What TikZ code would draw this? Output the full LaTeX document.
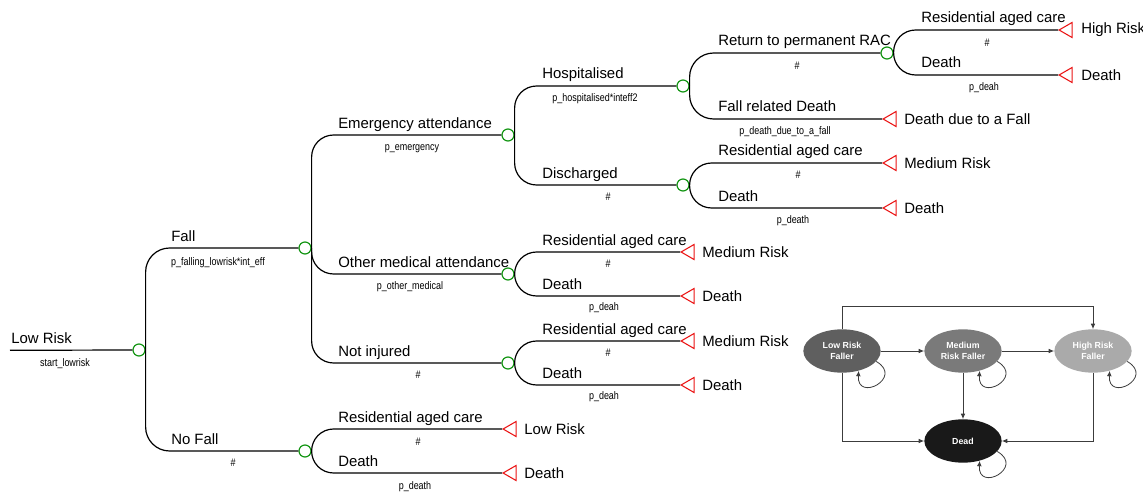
\documentclass[tikz,border=0pt]{standalone}
\usepackage{fontspec}
\setmainfont{Liberation Sans}
\usetikzlibrary{shapes.geometric,arrows.meta}
\newcommand{\nrw}[1]{\scalebox{0.82}[1]{#1}}
\definecolor{chgreen}{RGB}{20,150,20}
\definecolor{termred}{RGB}{235,20,20}
\definecolor{lrfill}{RGB}{95,95,95}
\definecolor{mrfill}{RGB}{122,122,122}
\definecolor{hrfill}{RGB}{170,170,170}
\definecolor{ddfill}{RGB}{25,25,25}
\definecolor{edgegray}{RGB}{60,60,60}
\begin{document}
\begin{tikzpicture}[x=0.75pt,y=-0.75pt,
  chance/.style={circle,draw=chgreen,line width=0.9pt,fill=white,minimum size=9pt,inner sep=0pt},
  term/.style={regular polygon,regular polygon sides=3,shape border rotate=90,draw=termred,line width=0.8pt,minimum size=13pt,inner sep=0pt,anchor=west},
  br/.style={line width=0.9pt,rounded corners=16.5pt},
  brwide/.style={line width=0.9pt,rounded corners=18pt},
  lab/.style={anchor=base west,inner sep=0pt,font=\fontsize{11.2}{13}\selectfont},
  sm/.style={inner sep=0pt,font=\fontsize{8.2}{9}\selectfont},
  endl/.style={anchor=west,inner sep=0pt,font=\fontsize{11.2}{13}\selectfont},
  st/.style={ellipse,minimum width=58pt,minimum height=32.5pt,inner sep=0pt,text=white,align=center,font=\fontsize{6.6}{7.8}\selectfont\bfseries},
  mk/.style={draw=edgegray,line width=0.6pt,-{Latex[length=4pt,width=3.5pt]}}
]
\useasboundingbox[fill=white] (0,0) rectangle (1143,492);

% chance nodes
\node[chance] (c0) at (139,350) {};
\node[chance] (c1) at (305,248) {};
\node[chance] (c2) at (305,451) {};
\node[chance] (c3) at (508,135) {};
\node[chance] (c4) at (508,274) {};
\node[chance] (c5) at (508,363) {};
\node[chance] (c6) at (683,86) {};
\node[chance] (c7) at (683,185) {};
\node[chance] (c8) at (887,53) {};

% terminal nodes
\node[term] (t1) at (1058,30) {};
\node[term] (t2) at (1058,75) {};
\node[term] (t3) at (882,119) {};
\node[term] (t4) at (882,163) {};
\node[term] (t5) at (882,208) {};
\node[term] (t6) at (680,252) {};
\node[term] (t7) at (680,296) {};
\node[term] (t8) at (680,341) {};
\node[term] (t9) at (680,385) {};
\node[term] (t10) at (502,429) {};
\node[term] (t11) at (502,473) {};

\coordinate (start) at (10,350.3);

% connectors
\draw[br] (start) -- (c0.west);
\draw[brwide] (c0.east) |- (c1.west);
\draw[brwide] (c0.east) |- (c2.west);
\draw[br] (c1.east) |- (c3.west);
\draw[br] (c1.east) |- (c4.west);
\draw[br] (c1.east) |- (c5.west);
\draw[br] (c2.east) |- (t10.west);
\draw[br] (c2.east) |- (t11.west);
\draw[br] (c3.east) |- (c6.west);
\draw[br] (c3.east) |- (c7.west);
\draw[br] (c4.east) |- (t6.west);
\draw[br] (c4.east) |- (t7.west);
\draw[br] (c5.east) |- (t8.west);
\draw[br] (c5.east) |- (t9.west);
\draw[brwide] (c6.east) |- (c8.west);
\draw[brwide] (c6.east) |- (t3.west);
\draw[br] (c7.east) |- (t4.west);
\draw[br] (c7.east) |- (t5.west);
\draw[br] (c8.east) |- (t1.west);
\draw[br] (c8.east) |- (t2.west);

% branch labels
\node[lab] at (11,343) {Low Risk};
\node[sm] at (65,364) {\nrw{start\_lowrisk}};
\node[lab] at (171,241) {Fall};
\node[sm] at (218,263) {\nrw{p\_falling\_lowrisk*int\_eff}};
\node[lab] at (171,444) {No Fall};
\node[sm] at (233,463) {\nrw{\#}};
\node[lab] at (338,128) {Emergency attendance};
\node[sm] at (412,149) {\nrw{p\_emergency}};
\node[lab] at (338,267) {Other medical attendance};
\node[sm] at (410,287) {\nrw{p\_other\_medical}};
\node[lab] at (338,356) {Not injured};
\node[sm] at (418,375) {\nrw{\#}};
\node[lab] at (338,422) {Residential aged care};
\node[sm] at (418,442) {\nrw{\#}};
\node[lab] at (338,466) {Death};
\node[sm] at (415,487) {\nrw{p\_death}};
\node[lab] at (542,79) {Hospitalised};
\node[sm] at (595,99) {\nrw{p\_hospitalised*inteff2}};
\node[lab] at (542,178) {Discharged};
\node[sm] at (608,197) {\nrw{\#}};
\node[lab] at (542,245) {Residential aged care};
\node[sm] at (608,264) {\nrw{\#}};
\node[lab] at (542,289) {Death};
\node[sm] at (604,308) {\nrw{p\_deah}};
\node[lab] at (542,334) {Residential aged care};
\node[sm] at (608,353) {\nrw{\#}};
\node[lab] at (542,378) {Death};
\node[sm] at (604,397) {\nrw{p\_deah}};
\node[lab] at (718,46) {Return to permanent RAC};
\node[sm] at (797,66) {\nrw{\#}};
\node[lab] at (718,112) {Fall related Death};
\node[sm] at (785,132) {\nrw{p\_death\_due\_to\_a\_fall}};
\node[lab] at (718,156) {Residential aged care};
\node[sm] at (798,175) {\nrw{\#}};
\node[lab] at (718,201) {Death};
\node[sm] at (793,221) {\nrw{p\_death}};
\node[lab] at (921,23) {Residential aged care};
\node[sm] at (987,43) {\nrw{\#}};
\node[lab] at (921,68) {Death};
\node[sm] at (984,88) {\nrw{p\_deah}};

% terminal labels
\node[endl] at (1081,30) {High Risk};
\node[endl] at (1081,75) {Death};
\node[endl] at (904,119) {Death due to a Fall};
\node[endl] at (904,163) {Medium Risk};
\node[endl] at (904,208) {Death};
\node[endl] at (702,252) {Medium Risk};
\node[endl] at (702,296) {Death};
\node[endl] at (702,341) {Medium Risk};
\node[endl] at (702,385) {Death};
\node[endl] at (524,429) {Low Risk};
\node[endl] at (524,473) {Death};

% Markov model
\node[st,fill=lrfill] (lr) at (842,351) {Low Risk\\Faller};
\node[st,fill=mrfill] (mr) at (963,351) {Medium\\Risk Faller};
\node[st,fill=hrfill] (hr) at (1093,351) {High Risk\\Faller};
\node[st,fill=ddfill] (dd) at (963,441) {Dead};

\draw[mk] (lr.east) -- (mr.west);
\draw[mk] (mr.east) -- (hr.west);
\draw[mk] (lr.north) -- ++(0,-23) -| (hr.north);
\draw[mk] (lr.south) |- (dd.west);
\draw[mk] (hr.south) |- (dd.east);
\draw[mk] (mr.south) -- (dd.north);
\draw[mk] (lr.-17) .. controls +(28,16) and +(-2,32) .. (lr.-50);
\draw[mk] (mr.-17) .. controls +(28,16) and +(-2,32) .. (mr.-50);
\draw[mk] (hr.-17) .. controls +(28,16) and +(-2,32) .. (hr.-50);
\draw[mk] (dd.-17) .. controls +(28,16) and +(-2,32) .. (dd.-50);
\end{tikzpicture}
\end{document}
